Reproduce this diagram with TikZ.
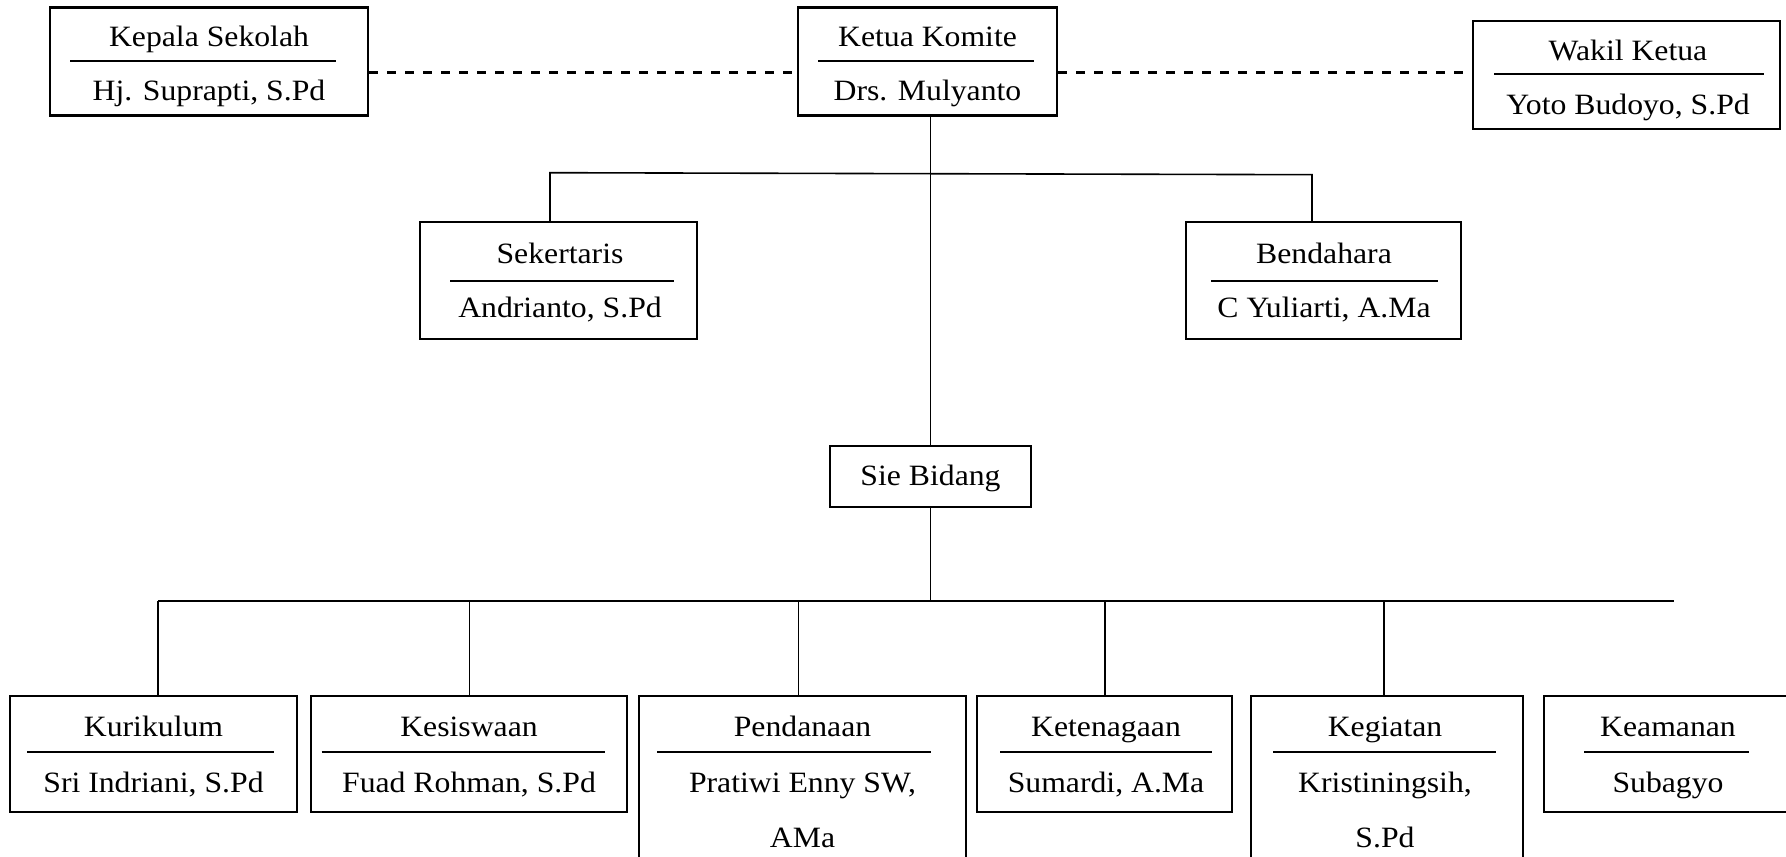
\documentclass[tikz,border=0pt]{standalone}
\usepackage{fontspec}
\setmainfont[FakeStretch=1.075]{Liberation Serif}
\begin{document}
\begin{tikzpicture}[x=0.5pt,y=-0.5pt,
  box/.style={draw,line width=1.05pt,inner sep=0pt,rectangle},
  txt/.style={anchor=base,inner sep=0pt,font=\fontsize{14.75pt}{17pt}\selectfont},
  sep/.style={line width=1pt},
  conn/.style={line width=0.8pt},
  dashconn/.style={line width=1.5pt,dash pattern=on 4.3pt off 4.7pt}]
\useasboundingbox (0,0) rectangle (1786,856);
\clip (0,0) rectangle (1786,856);
\fill[white] (0,0) rectangle (1786,856);

% ---- top row ----
\node[box,minimum width=159pt,minimum height=54pt] (kepala) at (209,61.5) {};
\node[txt] (kepalaT) at (209,47) {Kepala Sekolah};
\node[txt] (kepalaN) at (209,100) {Hj. Suprapti, S.Pd};
\draw[sep] (70,61) -- (336,61);

\node[box,minimum width=129.5pt,minimum height=54pt] (ketua) at (927.5,61.5) {};
\node[txt] (ketuaT) at (927.5,47) {Ketua Komite};
\node[txt] (ketuaN) at (927.5,100) {Drs. Mulyanto};
\draw[sep] (818,61) -- (1034,61);

\node[box,minimum width=153.5pt,minimum height=54pt] (wakil) at (1626.5,75) {};
\node[txt] (wakilT) at (1628,60.5) {Wakil Ketua};
\node[txt] (wakilN) at (1628,114) {Yoto Budoyo, S.Pd};
\draw[sep] (1494,74) -- (1764,74);

% ---- middle row ----
\node[box,minimum width=138.5pt,minimum height=58.5pt] (sek) at (558.5,280.5) {};
\node[txt] (sekT) at (560,263) {Sekertaris};
\node[txt] (sekN) at (560,317) {Andrianto, S.Pd};
\draw[sep] (450,281) -- (674,281);

\node[box,minimum width=137.5pt,minimum height=58.5pt] (ben) at (1323.5,280.5) {};
\node[txt] (benT) at (1324,263) {Bendahara};
\node[txt] (benN) at (1324,317) {C Yuliarti, A.Ma};
\draw[sep] (1211,281) -- (1438,281);

\node[box,minimum width=100.5pt,minimum height=30.5pt] (sie) at (930.5,476.5) {};
\node[txt] (sieT) at (930.5,485) {Sie Bidang};

% ---- bottom row ----
\node[box,minimum width=143.5pt,minimum height=58pt] (kur) at (153.5,754) {};
\node[txt] (kurT) at (153.5,736) {Kurikulum};
\node[txt] (kurN) at (153.5,792) {Sri Indriani, S.Pd};
\draw[sep] (27,752) -- (274,752);

\node[box,minimum width=158pt,minimum height=58pt] (kes) at (469,754) {};
\node[txt] (kesT) at (469,736) {Kesiswaan};
\node[txt] (kesN) at (469,792) {Fuad Rohman, S.Pd};
\draw[sep] (321.5,752) -- (604.5,752);

\node[box,minimum width=163.5pt,minimum height=102pt] (pen) at (802.5,798) {};
\node[txt] (penT) at (802.5,736) {Pendanaan};
\node[txt] (penN) at (802.5,792) {Pratiwi Enny SW,};
\node[txt] (penN2) at (802.5,847) {AMa};
\draw[sep] (657,752) -- (931,752);

\node[box,minimum width=127.5pt,minimum height=58pt] (ten) at (1104.5,754) {};
\node[txt] (tenT) at (1106,736) {Ketenagaan};
\node[txt] (tenN) at (1106,792) {Sumardi, A.Ma};
\draw[sep] (1000,752) -- (1212,752);

\node[box,minimum width=136pt,minimum height=102pt] (keg) at (1387,798) {};
\node[txt] (kegT) at (1385,736) {Kegiatan};
\node[txt] (kegN) at (1385,792) {Kristiningsih,};
\node[txt] (kegN2) at (1385,847) {S.Pd};
\draw[sep] (1273,752) -- (1495.5,752);

\node[box,minimum width=128pt,minimum height=58pt] (kea) at (1672,754) {};
\node[txt] (keaT) at (1668,736) {Keamanan};
\node[txt] (keaN) at (1668,792) {Subagyo};
\draw[sep] (1584,752) -- (1749,752);

% ---- connectors ----
\coordinate (dl) at (0,73);
\draw[dashconn] (kepala.east |- dl) -- (ketua.west |- dl);
\draw[dashconn] (ketua.east |- dl) -- (wakil.west |- dl);

\draw[conn] (ketua.south -| sie.north) -- (sie.north);

\coordinate (bl) at (550,172.7);
\coordinate (br) at (1312,174.7);
\draw[conn] (sek.north -| bl) -- (bl) -- (br) -- (br |- ben.north);

\coordinate (hl) at (158,601);
\coordinate (hr) at (1674,601);
\draw[conn] (sie.south) -- (sie.south |- hl);
\draw[conn] (hl) -- (hr);
\coordinate (c2) at (469.6,601);
\coordinate (c3) at (798.5,601);
\coordinate (c4) at (1105,601);
\coordinate (c5) at (1384,601);
\draw[conn] (hl) -- (hl |- kur.north);
\draw[conn] (c2) -- (c2 |- kes.north);
\draw[conn] (c3) -- (c3 |- pen.north);
\draw[conn] (c4) -- (c4 |- ten.north);
\draw[conn] (c5) -- (c5 |- keg.north);
\end{tikzpicture}
\end{document}
